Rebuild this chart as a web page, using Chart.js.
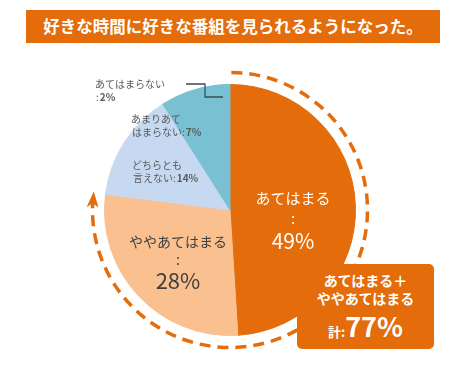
<!DOCTYPE html>
<html lang="ja">
<head>
<meta charset="utf-8">
<script src="https://cdn.jsdelivr.net/npm/chart.js@4"></script>
<style>
  body { margin: 0; background: #fff; }
  #wrap { position: relative; width: 470px; height: 369px; overflow: hidden; font-family: "Noto Sans CJK JP", "Noto Sans", sans-serif; }
  #chart { position: absolute; left: 0; top: 0; }
  #title {
    position: absolute; left: 26px; top: 10px; width: 414px; height: 33px;
    background: #E46C0A; color: #fff; font-weight: bold; font-size: 16.5px;
    line-height: 33px; text-align: center; letter-spacing: 0;
  }
  #total {
    position: absolute; left: 297px; top: 264px; width: 137px; height: 85px;
    background: #E46C0A; border-radius: 5px; color: #fff; font-weight: bold;
    text-align: center; box-sizing: border-box; padding-top: 7px;
  }
  #total .l { font-size: 14px; line-height: 18px; }
  #total .sum { margin-top: 4px; line-height: 30px; }
  #total .k { font-size: 13px; }
  #total .n { font-size: 27px; }
</style>
</head>
<body>
<div id="wrap">
  <canvas id="chart" width="470" height="369"></canvas>
  <div id="title">好きな時間に好きな番組を見られるようになった。</div>
  <div id="total">
    <div class="l">あてはまる＋</div>
    <div class="l">ややあてはまる</div>
    <div class="sum"><span class="k">計:</span><span class="n">77%</span></div>
  </div>
</div>
<script>
// datos del gráfico
const categorias = ['あてはまる', 'ややあてはまる', 'どちらとも言えない', 'あまりあてはまらない', 'あてはまらない'];
const valores = [49, 28, 14, 7, 2];
const colores = ['#E46C0A', '#FAC090', '#C6D9F1', '#79C0D3', '#79C0D3'];

// cuántas categorías entran en la flecha (あてはまる + ややあてはまる)
const enFlecha = 2;

// --- etiquetas y flecha punteada ---
const pluginDecoracion = {
  id: 'decoracion',
  afterDatasetsDraw(chart) {
    const ctx = chart.ctx;
    const arcos = chart.getDatasetMeta(0).data;
    const cx = arcos[0].x, cy = arcos[0].y, r = arcos[0].outerRadius;
    const total = valores.reduce((a, b) => a + b, 0);
    const fmt = v => v + '%';
    const fam = '"Noto Sans CJK JP", "Noto Sans", sans-serif';

    // grandes (dentro de la porción)
    ctx.save();
    ctx.textAlign = 'center';
    ctx.textBaseline = 'middle';
    ctx.fillStyle = '#fff';
    ctx.font = '15px ' + fam;
    ctx.fillText(categorias[0], cx + 63, cy - 12);
    ctx.fillText(':', cx + 63, cy + 8);
    ctx.font = '21px ' + fam;
    ctx.fillText(fmt(valores[0]), cx + 63, cy + 31);

    ctx.fillStyle = '#404040';
    ctx.font = '14px ' + fam;
    ctx.fillText(categorias[1], cx - 52, cy + 32);
    ctx.fillText(':', cx - 52, cy + 50);
    ctx.font = '22px ' + fam;
    ctx.fillText(fmt(valores[1]), cx - 52, cy + 71);

    // chicas (alineadas a la izquierda)
    ctx.textAlign = 'left';
    ctx.fillStyle = '#595959';
    const chica = (linea1, linea2, v, x, y) => {
      ctx.font = '10px ' + fam;
      ctx.fillText(linea1, x, y);
      const pre = linea2 + ':';
      ctx.fillText(pre, x + 1, y + 13);
      const w = ctx.measureText(pre).width;
      ctx.font = 'bold 10px ' + fam;
      ctx.fillText(fmt(v), x + 1 + w + 1, y + 13);
    };
    chica('どちらとも', '言えない', valores[2], cx - 98, cy - 45);
    chica('あまりあて', 'はまらない', valores[3], cx - 99, cy - 91);
    chica('あてはまらない', '', valores[4], cx - 135, cy - 126);

    // línea guía de あてはまらない
    ctx.strokeStyle = '#3D4B5C';
    ctx.lineWidth = 1.3;
    ctx.beginPath();
    ctx.moveTo(cx - 44, cy - 126);
    ctx.lineTo(cx - 25, cy - 126);
    ctx.lineTo(cx - 25, cy - 113);
    ctx.lineTo(cx - 7, cy - 113);
    ctx.stroke();

    // flecha punteada alrededor del 77%
    const R = r + 12;
    const suma = valores.slice(0, enFlecha).reduce((a, b) => a + b, 0);
    const inicio = -Math.PI / 2 + 0.01;
    const punta = -Math.PI / 2 + 2 * Math.PI * (suma / total) + 0.01;
    const fin = punta - 9 / R;
    ctx.strokeStyle = '#E46C0A';
    ctx.lineWidth = 3.5;
    ctx.setLineDash([11, 7]);
    ctx.beginPath();
    ctx.arc(cx, cy, R, inicio, fin);
    ctx.stroke();
    ctx.setLineDash([]);

    const P = (a, rr) => [cx + rr * Math.cos(a), cy + rr * Math.sin(a)];
    const t = P(punta, R);
    const b = punta - 16 / R;
    const bl = P(b, R - 6), br = P(b, R + 6), bm = P(b + 4 / R, R);
    ctx.fillStyle = '#E46C0A';
    ctx.beginPath();
    ctx.moveTo(t[0], t[1]);
    ctx.lineTo(bl[0], bl[1]);
    ctx.lineTo(bm[0], bm[1]);
    ctx.lineTo(br[0], br[1]);
    ctx.closePath();
    ctx.fill();
    ctx.restore();
  }
};

new Chart(document.getElementById('chart'), {
  type: 'pie',
  data: {
    labels: categorias,
    datasets: [{
      data: valores,
      backgroundColor: colores,
      borderColor: colores,
      borderWidth: 1
    }]
  },
  options: {
    responsive: false,
    animation: false,
    layout: { padding: { left: 104, right: 114, top: 84, bottom: 33 } },
    plugins: {
      legend: { display: false },
      tooltip: { enabled: false }
    }
  },
  plugins: [pluginDecoracion]
});
</script>
</body>
</html>
